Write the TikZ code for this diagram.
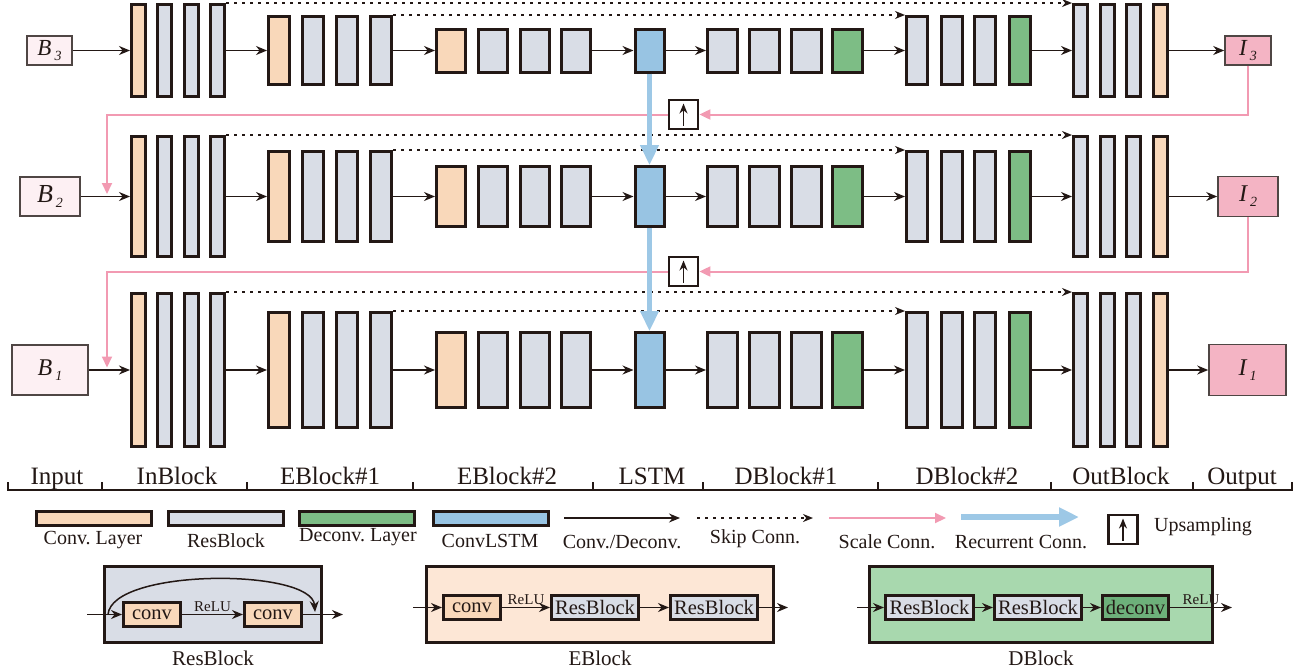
\documentclass[tikz,border=0pt]{standalone}
\usepackage{fontspec}
\setmainfont{Liberation Serif}
\usetikzlibrary{arrows.meta}
\frenchspacing
\definecolor{edge}{HTML}{231815}
\definecolor{convc}{HTML}{F9D8BA}
\definecolor{resc}{HTML}{D9DDE6}
\definecolor{deconvc}{HTML}{7DBD85}
\definecolor{lstmc}{HTML}{98C4E3}
\definecolor{outc}{HTML}{F4B4C4}
\definecolor{inc}{HTML}{FDF0F3}
\definecolor{scalec}{HTML}{F29AB2}
\definecolor{recurc}{HTML}{9DC8E6}
\definecolor{epanel}{HTML}{FDE7D6}
\definecolor{dpanel}{HTML}{A8D8AE}
\definecolor{ddeconv}{HTML}{6DB07A}
\tikzset{
  bar/.style={draw=edge,line width=3pt,fill=#1,inner sep=0pt},
  conn/.style={draw=edge,line width=1.5pt,->},
  skipconn/.style={draw=edge,line width=2.2pt,dash pattern=on 2.5pt off 5.5pt,-{Stealth[length=10pt,width=8pt]}},
  scaleconn/.style={draw=scalec,line width=2pt,-{Triangle[length=11pt,width=10pt]}},
  recur/.style={draw=recurc,line width=4.5pt,-{Triangle[length=20pt,width=18pt]}},
  imbox/.style={draw=edge!80,line width=1.6pt,fill=#1,inner sep=0pt},
  upbox/.style={draw=edge,line width=2.8pt,fill=white,minimum size=29,inner sep=0pt},
  uparrow/.style={draw=edge,line width=1.4pt,-{Stealth[length=10pt,width=8pt]}},
  axlabel/.style={font=\fontsize{25}{30}\selectfont,anchor=base,inner sep=0pt},
  lgtext/.style={font=\fontsize{20}{24}\selectfont,inner sep=0pt},
  panel/.style={draw=edge,line width=3pt,fill=#1,inner sep=0pt},
  ibox/.style={draw=edge,line width=3pt,fill=#1,inner sep=0pt,minimum height=24,font=\fontsize{20.5}{24}\selectfont},
  relu/.style={above=2pt,inner sep=0pt,font=\fontsize{15}{18}\selectfont},
}
\newcommand{\imlabel}[2]{\textit{#1\kern3pt\raisebox{-5pt}{\fontsize{14}{14}\selectfont #2}}}
\newcommand{\netrow}[5]{%
  \foreach \x/\col [count=\i] in {138.5/convc,164.5/resc,191.5/resc,217.5/resc}
    \node[bar=\col, minimum width=14, minimum height=#3-3] (in#1\i) at (\x,#2) {};
  \foreach \x/\col [count=\i] in {279/convc,312.5/resc,347/resc,381/resc}
    \node[bar=\col, minimum width=21, minimum height=#4-3] (ea#1\i) at (\x,#2) {};
  \foreach \x/\col [count=\i] in {451/convc,492.5/resc,535/resc,576/resc}
    \node[bar=\col, minimum width=29, minimum height=#5-3] (eb#1\i) at (\x,#2) {};
  \node[bar=lstmc, minimum width=29, minimum height=#5-3] (lstm#1) at (649.5,#2) {};
  \foreach \x/\col [count=\i] in {722.5/resc,764/resc,806/resc,847.5/deconvc}
    \node[bar=\col, minimum width=30, minimum height=#5-3] (da#1\i) at (\x,#2) {};
  \foreach \x/\col [count=\i] in {917/resc,951.5/resc,985/resc,1019.5/deconvc}
    \node[bar=\col, minimum width=21, minimum height=#4-3] (db#1\i) at (\x,#2) {};
  \foreach \x/\col [count=\i] in {1080.5/resc,1107/resc,1133.5/resc,1160/convc}
    \node[bar=\col, minimum width=14, minimum height=#3-3] (out#1\i) at (\x,#2) {};
  \draw[conn] (b#1) -- (in#11);
  \draw[conn] (in#14) -- (ea#11);
  \draw[conn] (ea#14) -- (eb#11);
  \draw[conn] (eb#14) -- (lstm#1);
  \draw[conn] (lstm#1) -- (da#11);
  \draw[conn] (da#14) -- (db#11);
  \draw[conn] (db#14) -- (out#11);
  \draw[conn] (out#14) -- (i#1);
  \draw[skipconn] (in#14.north east) -- (out#11.north west);
  \draw[skipconn] (ea#14.north east) -- (db#11.north west);
}
\begin{document}
\begin{tikzpicture}[x=1pt,y=-1pt,>={Stealth[length=11pt,width=9pt]},color=edge]
\useasboundingbox (0,0) rectangle (1296,670);
\node[imbox=inc, minimum width=45, minimum height=29, font=\fontsize{23}{26}\selectfont] (b3) at (49.5,50.5) {\imlabel{B}{3}};
\node[imbox=inc, minimum width=60, minimum height=39, font=\fontsize{26}{28}\selectfont] (b2) at (50,196.5) {\imlabel{B}{2}};
\node[imbox=inc, minimum width=76, minimum height=50, font=\fontsize{24}{28}\selectfont] (b1) at (50,370) {\imlabel{B}{1}};
\node[imbox=outc, minimum width=46, minimum height=29, font=\fontsize{23}{26}\selectfont] (i3) at (1248,50.5) {\imlabel{I}{3}};
\node[imbox=outc, minimum width=60, minimum height=40, font=\fontsize{24}{28}\selectfont] (i2) at (1248,196.5) {\imlabel{I}{2}};
\node[imbox=outc, minimum width=77, minimum height=51, font=\fontsize{24}{28}\selectfont] (i1) at (1247.5,370) {\imlabel{I}{1}};
\netrow{3}{50.5}{95}{71}{46}
\netrow{2}{196.5}{123}{93}{63}
\netrow{1}{370}{156}{118}{78}
\node[upbox] (up3) at (683.5,114.5) {};
\node[upbox] (up2) at (683.5,271.5) {};
\draw[uparrow] ([yshift=-11pt]up3.center) -- ([yshift=11pt]up3.center);
\draw[uparrow] ([yshift=-11pt]up2.center) -- ([yshift=11pt]up2.center);
\coordinate (j2) at (107,194);
\coordinate (j1) at (107,367.5);
\draw[scaleconn] (i3.south) |- (up3.east);
\draw[scaleconn] (up3.west) -| (j2);
\draw[scaleconn] (i2.south) |- (up2.east);
\draw[scaleconn] (up2.west) -| (j1);
\draw[recur] (lstm3) -- (lstm2);
\draw[recur] (lstm2) -- (lstm1);
\draw[line width=2pt] (8,482) -- (8,490) -- (1292,490) -- (1292,482);
\foreach \t in {102,247,413,593,703,878,1051,1193}
  \draw[line width=2pt] (\t,482) -- (\t,490);
\foreach \x/\txt [count=\i] in {57/Input,177/InBlock,330/EBlock\#1,507/EBlock\#2,652/LSTM,786/DBlock\#1,967/DBlock\#2,1121/OutBlock,1242/Output}
  \node[axlabel] (ax\i) at (\x,484) {\txt};
\node[bar=convc, minimum width=115, minimum height=14] (lgconv) at (94,518.5) {};
\node[bar=resc, minimum width=115, minimum height=14] (lgres) at (226,518.5) {};
\node[bar=deconvc, minimum width=115, minimum height=14] (lgdeconv) at (357,518.5) {};
\node[bar=lstmc, minimum width=115, minimum height=14] (lglstm) at (490.5,518.5) {};
\node[lgtext] (lgconvt) at (93,540) {Conv. Layer};
\node[lgtext] (lgrest) at (226,541) {ResBlock};
\node[lgtext] (lgdeconvt) at (358,537) {Deconv. Layer};
\node[lgtext] (lglstmt) at (490,541) {ConvLSTM};
\coordinate (lgc1) at (564,518);
\coordinate (lgc2) at (680,518);
\draw[conn] (lgc1) -- (lgc2);
\node[lgtext] (lgct) at (622,542) {Conv./Deconv.};
\coordinate (lgs1) at (697,518);
\coordinate (lgs2) at (813,518);
\draw[skipconn] (lgs1) -- (lgs2);
\node[lgtext] (lgst) at (755,539) {Skip Conn.};
\coordinate (lgp1) at (829,518);
\coordinate (lgp2) at (946,518);
\draw[scaleconn] (lgp1) -- (lgp2);
\node[lgtext] (lgpt) at (887,542) {Scale Conn.};
\coordinate (lgr1) at (961,517);
\coordinate (lgr2) at (1079,517);
\draw[recur, line width=5.5pt] (lgr1) -- (lgr2);
\node[lgtext] (lgrt) at (1021,542) {Recurrent Conn.};
\node[upbox] (lgup) at (1123,529.5) {};
\draw[uparrow] ([yshift=-11pt]lgup.center) -- ([yshift=11pt]lgup.center);
\node[lgtext] (lgupt) at (1203,527) {Upsampling};
\node[panel=resc, minimum width=217, minimum height=76] (rbp) at (213,604.5) {};
\node[ibox=convc, minimum width=57] (rc1) at (152,614.5) {conv};
\node[ibox=convc, minimum width=57] (rc2) at (273,614.5) {conv};
\coordinate (rin) at (87,614.5);
\coordinate (rout) at (343,614.5);
\coordinate (rsa) at (108,614.5);
\coordinate (rsb) at (315,612);
\draw[conn] (rin) -- (rc1);
\draw[conn] (rc1) -- node[relu] (rl1) {ReLU} (rc2);
\draw[conn] (rc2) -- (rout);
\draw[conn] (rsa) .. controls (112,568) and (312,568) .. (rsb);
\node[lgtext, font=\fontsize{21}{24}\selectfont] (rbt) at (213,658) {ResBlock};
\node[panel=epanel, minimum width=347, minimum height=76] (ebp) at (600,604.5) {};
\node[ibox=convc, minimum width=57] (ec) at (472,607.5) {conv};
\node[ibox=resc, minimum width=87] (er1) at (595,607.5) {ResBlock};
\node[ibox=resc, minimum width=87] (er2) at (714,607.5) {ResBlock};
\coordinate (ein) at (413,607.5);
\coordinate (eout) at (788,607.5);
\draw[conn] (ein) -- (ec);
\draw[conn] (ec) -- node[relu] (rl2) {ReLU} (er1);
\draw[conn] (er1) -- (er2);
\draw[conn] (er2) -- (eout);
\node[lgtext, font=\fontsize{21}{24}\selectfont] (ebt) at (600,658) {EBlock};
\node[panel=dpanel, minimum width=343, minimum height=76] (dbp) at (1041,604.5) {};
\node[ibox=resc, minimum width=88] (dr1) at (929.5,607.5) {ResBlock};
\node[ibox=resc, minimum width=87] (dr2) at (1038,607.5) {ResBlock};
\node[ibox=ddeconv, minimum width=66] (dd) at (1135.5,607.5) {deconv};
\coordinate (din) at (857,607.5);
\coordinate (dout) at (1232,607.5);
\draw[conn] (din) -- (dr1);
\draw[conn] (dr1) -- (dr2);
\draw[conn] (dr2) -- (dd);
\draw[conn] (dd) -- node[relu] (rl3) {ReLU} (dout);
\node[lgtext, font=\fontsize{21}{24}\selectfont] (dbt) at (1041,658) {DBlock};
\end{tikzpicture}
\end{document}
